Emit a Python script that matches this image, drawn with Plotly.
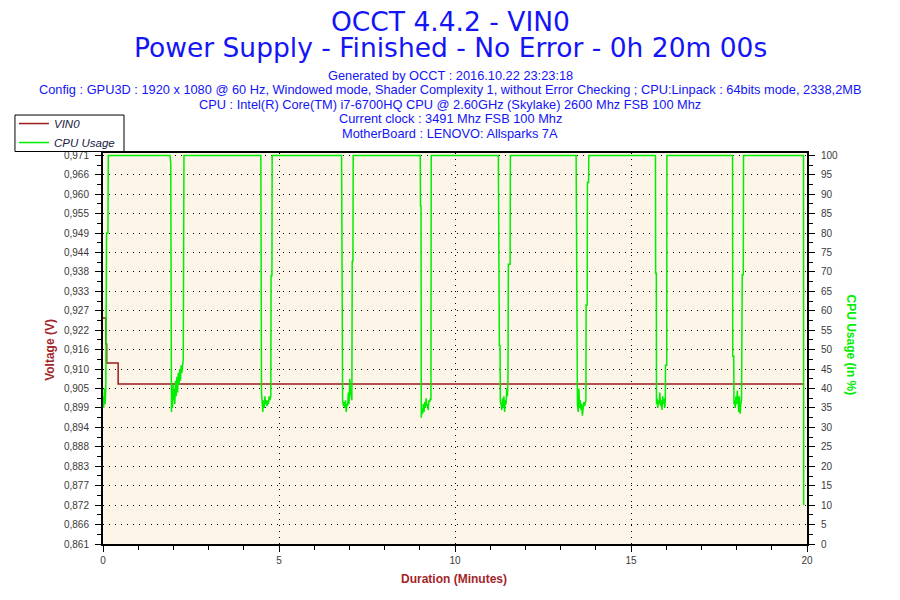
import plotly.graph_objects as go

# voltage (VIN0) steps, minutes / volts
vin_time = [0.0, 0.03, 0.08, 0.105, 0.43, 19.92]
vin_volts = [0.925, 0.925, 0.9176, 0.9122, 0.9063, 0.9063]

# CPU usage, minutes / percent
cpu_time = [
    0.00, 0.02, 0.04, 0.06, 0.08, 0.09, 0.10, 0.14, 0.15,
    1.905, 1.925, 1.945, 1.96, 1.975, 1.99, 2.005, 2.02, 2.04, 2.06, 2.08, 2.10,
    2.12, 2.14, 2.16, 2.18, 2.20, 2.22, 2.24, 2.26, 2.28, 2.30,
    4.484, 4.503, 4.52, 4.54, 4.56, 4.58, 4.60, 4.62, 4.64, 4.66, 4.68, 4.70,
    4.72, 4.74, 4.768, 4.775, 4.80, 4.805,
    6.778, 6.785, 6.800, 6.807, 6.83, 6.85, 6.87, 6.89, 6.91, 6.93, 6.95, 6.97,
    6.99, 7.01, 7.03, 7.05, 7.07, 7.080, 7.100, 7.108,
    9.013, 9.02, 9.035, 9.042, 9.06, 9.08, 9.10, 9.12, 9.14, 9.16, 9.18, 9.20,
    9.22, 9.24, 9.26, 9.28, 9.30, 9.317, 9.325,
    11.231, 11.24, 11.255, 11.26, 11.28, 11.288, 11.31, 11.33, 11.35, 11.37,
    11.39, 11.41, 11.43, 11.45, 11.47, 11.49, 11.505, 11.516, 11.565, 11.573,
    13.441, 13.45, 13.47, 13.478, 13.50, 13.52, 13.54, 13.56, 13.58, 13.60,
    13.62, 13.64, 13.66, 13.68, 13.70, 13.72, 13.725, 13.755, 13.762, 13.795, 13.801,
    15.695, 15.70, 15.72, 15.724, 15.74, 15.76, 15.78, 15.80, 15.82, 15.84,
    15.86, 15.88, 15.90, 15.92, 15.94, 15.96, 15.975, 15.98, 16.015, 16.02,
    17.885, 17.89, 17.92, 17.925, 17.94, 17.96, 17.98, 18.00, 18.02, 18.04,
    18.06, 18.08, 18.10, 18.12, 18.14, 18.16, 18.19, 18.197,
    19.90, 19.905,
]
cpu_pct = [
    38, 35, 40, 36, 40, 52, 80, 80, 100,
    100, 98, 34, 38, 35, 41, 37, 40, 36, 42, 38, 43,
    39, 44, 41, 45, 42, 46, 44, 47.5, 47.5, 100,
    100, 39, 36, 34, 37, 35, 38, 36, 37, 35.5, 37, 36,
    38, 37, 38, 69, 69, 100,
    100, 87, 87, 37, 35.5, 36.5, 35, 37, 34, 36, 35.5, 39,
    36, 42.5, 39, 37, 37, 72.7, 72.7, 100,
    100, 87, 87, 32.5, 35, 33.5, 36, 34, 36.5, 35, 37.5, 35.5,
    36, 34.5, 37, 36.5, 37.5, 37, 100,
    100, 83, 83, 51, 51, 36.5, 36, 34.5, 37.5, 35,
    38, 34, 37, 36, 40, 38, 42.5, 72, 72, 100,
    100, 66, 66, 36, 34, 40, 35, 37, 34.5, 36,
    33, 35, 36.5, 35.5, 37, 37, 61.5, 61.5, 93, 93, 100,
    100, 69.7, 69.7, 36, 37.5, 35, 37, 36, 39, 35.5,
    37, 34.5, 38, 36, 37.5, 35, 37, 46, 46, 100,
    100, 48.3, 48.3, 36, 37, 35, 38, 36, 39.5, 37,
    34, 38, 33.5, 36, 37, 69.3, 69.3, 100,
    100, 10,
]

volt_labels = ['0,861', '0,866', '0,872', '0,877', '0,883', '0,888', '0,894',
               '0,899', '0,905', '0,910', '0,916', '0,922', '0,927', '0,933',
               '0,938', '0,944', '0,949', '0,955', '0,960', '0,966', '0,971']
volt_ticks = [0.861 + i * 0.0055 for i in range(len(volt_labels))]
volt_minor = [v + 0.00275 for v in volt_ticks[:-1]]

title_lines = ['OCCT 4.4.2 - VIN0',
               'Power Supply - Finished - No Error - 0h 20m 00s']
info_lines = [
    'Generated by OCCT : 2016.10.22 23:23:18',
    'Config : GPU3D : 1920 x 1080 @ 60 Hz, Windowed mode, Shader Complexity 1, without Error Checking ; CPU:Linpack : 64bits mode, 2338,2MB',
    'CPU : Intel(R) Core(TM) i7-6700HQ CPU @ 2.60GHz (Skylake) 2600 Mhz FSB 100 Mhz',
    'Current clock : 3491 Mhz FSB 100 Mhz',
    'MotherBoard : LENOVO: Allsparks 7A',
]

# the page puts the figure 8px in from the window corner (body margin)
OFF = 8
W, H = 900 - OFF, 600 - OFF
PLOT_L, PLOT_R, PLOT_T, PLOT_B = 103, 806.7, 153, 544.3   # window pixels
L, T = PLOT_L - OFF, PLOT_T - OFF
R, B = W - (PLOT_R - OFF), H - (PLOT_B - OFF)
PW, PH = PLOT_R - PLOT_L, PLOT_B - PLOT_T


def px_x(px):
    return (px - PLOT_L) / PW


def px_y(py):
    return (PLOT_B - py) / PH


blue = '#1414f5'
dark_red = '#a3262a'
green = '#00ee00'
font = 'Liberation Sans, Arial, sans-serif'
title_font = 'DejaVu Sans, Verdana, sans-serif'

fig = go.Figure()
fig.add_trace(go.Scatter(
    x=vin_time, y=vin_volts, name='VIN0', mode='lines',
    line=dict(color='#9c1c1c', width=1.5, shape='hv'), yaxis='y'))
fig.add_trace(go.Scatter(
    x=cpu_time, y=cpu_pct, name='CPU Usage', mode='lines',
    line=dict(color=green, width=1.5), yaxis='y2'))


def label(text, xpx, ypx, size, color, angle=0, family=font):
    return dict(text=text, x=px_x(xpx), y=px_y(ypx), xref='paper', yref='paper',
                showarrow=False, xanchor='center', yanchor='middle', textangle=angle,
                font=dict(family=family, size=size, color=color))


annotations = []
for text, ypx in zip(title_lines, [21, 47]):
    annotations.append(label(text, 450, ypx, 26.5, blue, family=title_font))
for text, ypx in zip(info_lines, [75, 89.5, 104, 118.5, 133]):
    annotations.append(label(text, 450, ypx, 12.8, blue))
annotations.append(label('<b>Voltage (V)</b>', 50, 350, 12, dark_red, -90))
annotations.append(label('<b>CPU Usage (in %)</b>', 851, 345, 12, green, 90))
annotations.append(label('<b>Duration (Minutes)</b>', 454, 579, 12, dark_red))

# legend frame
shapes = [dict(type='rect', xref='paper', yref='paper', layer='above',
               x0=px_x(15), x1=px_x(124), y0=px_y(151.5), y1=px_y(115),
               fillcolor='white', line=dict(color='black', width=1))]

tick_font = dict(family=font, size=10, color='#3a3a3a')
grid = dict(showgrid=True, gridcolor='black', gridwidth=1, griddash='1px,5px')

fig.update_layout(
    width=W, height=H,
    margin=dict(l=L, r=R, t=T, b=B, autoexpand=False),
    paper_bgcolor='white', plot_bgcolor='#fdf6e8',
    font=dict(family=font),
    annotations=annotations,
    shapes=shapes,
    legend=dict(x=px_x(14), y=px_y(109), xanchor='left', yanchor='top',
                bgcolor='rgba(0,0,0,0)', borderwidth=0,
                font=dict(family=font, size=11.5, color='#202040', style='italic'),
                itemwidth=30, tracegroupgap=0),
    xaxis=dict(range=[0, 20], tickvals=[0, 5, 10, 15, 20], ticks='outside', ticklen=6,
               tickcolor='black', showline=True, linecolor='black', linewidth=2, mirror=True,
               zeroline=False, tickfont=tick_font,
               minor=dict(dtick=1, ticks='outside', ticklen=4, tickcolor='black'),
               **grid),
    yaxis=dict(range=[0.861, 0.861 + 0.11 * 391 / 388.6], tickvals=volt_ticks, ticktext=volt_labels,
               ticks='outside', ticklen=6, tickcolor='black', showline=True, linecolor='black',
               linewidth=2, zeroline=False, tickfont=tick_font, ticklabelstandoff=4,
               minor=dict(tickvals=volt_minor, ticks='outside', ticklen=4, tickcolor='black'),
               **grid),
    yaxis2=dict(range=[0, 100 * 391 / 388.6], overlaying='y', side='right',
                tickvals=list(range(0, 101, 5)), ticks='outside', ticklen=6, tickcolor='black',
                showline=True, linecolor='black', linewidth=2, showgrid=False, zeroline=False,
                tickfont=tick_font, ticklabelstandoff=4,
                minor=dict(dtick=2.5, ticks='outside', ticklen=4, tickcolor='black')),
)

fig.write_html("out.html")
